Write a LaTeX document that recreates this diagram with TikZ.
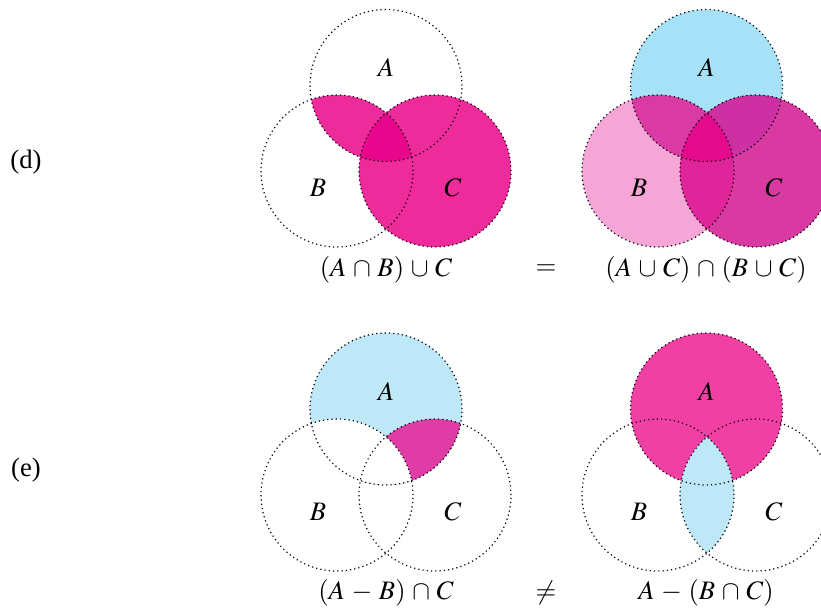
\documentclass[tikz,border=0pt]{standalone}
\usepackage{mathptmx}
\usepackage{fontspec}
\setmainfont{Liberation Serif}
\usetikzlibrary{positioning, calc}
\definecolor{skyA}{HTML}{A6E1F7}
\definecolor{paleA}{HTML}{BEE8F8}
\definecolor{pinkB}{HTML}{F5A6D6}
\definecolor{plumC}{HTML}{D93AA2}
\definecolor{plumAB}{HTML}{D93AA3}
\definecolor{plumAC}{HTML}{CC30A3}
\definecolor{rubyBC}{HTML}{E0249A}
\definecolor{deepABC}{HTML}{E40A8C}
\definecolor{hotmag}{HTML}{EE2B9A}
\definecolor{hotcore}{HTML}{E8078C}
\definecolor{softmag}{HTML}{E03CA6}
\definecolor{brightmag}{HTML}{F040A4}

\begin{document}
\begin{tikzpicture}[
    x=0.375pt, y=-0.375pt,
    rim/.style={draw=black, line width=0.45pt, dash pattern=on 0.45pt off 1.15pt},
    setlbl/.style={inner sep=0pt},
    formula/.style={inner sep=1pt, execute at begin node={\medmuskip=4.5mu\relax}},
    rowlbl/.style={inner sep=0pt}
  ]
    \useasboundingbox (0,0) rectangle (821,609);
    \def\rr{28.5pt}

    % centres of the four diagrams
    \coordinate (dlA) at (386,85.5);  \coordinate (dlB) at (337,171); \coordinate (dlC) at (435,171);
    \coordinate (drA) at (706.5,85.5); \coordinate (drB) at (658,171); \coordinate (drC) at (756,171);
    \coordinate (elA) at (386,409);   \coordinate (elB) at (337,495); \coordinate (elC) at (435,495);
    \coordinate (erA) at (706.5,409); \coordinate (erB) at (658,495); \coordinate (erC) at (756,495);

    % (d) left: (A n B) u C
    \begin{scope}
      \clip (dlA) circle[radius=\rr];
      \fill[hotmag] (dlB) circle[radius=\rr];
    \end{scope}
    \fill[hotmag] (dlC) circle[radius=\rr];
    \begin{scope}
      \clip (dlA) circle[radius=\rr];
      \clip (dlB) circle[radius=\rr];
      \fill[hotcore] (dlC) circle[radius=\rr];
    \end{scope}

    % (d) right: (A u C) n (B u C)
    \fill[skyA] (drA) circle[radius=\rr];
    \fill[pinkB] (drB) circle[radius=\rr];
    \fill[plumC] (drC) circle[radius=\rr];
    \begin{scope}
      \clip (drA) circle[radius=\rr];
      \fill[plumAB] (drB) circle[radius=\rr];
      \fill[plumAC] (drC) circle[radius=\rr];
    \end{scope}
    \begin{scope}
      \clip (drB) circle[radius=\rr];
      \fill[rubyBC] (drC) circle[radius=\rr];
      \clip (drA) circle[radius=\rr];
      \fill[deepABC] (drC) circle[radius=\rr];
    \end{scope}

    % (e) left: (A - B) n C
    \fill[paleA] (elA) circle[radius=\rr];
    \begin{scope}
      \clip (elA) circle[radius=\rr];
      \fill[softmag] (elC) circle[radius=\rr];
      \fill[white] (elB) circle[radius=\rr];
    \end{scope}

    % (e) right: A - (B n C)
    \fill[brightmag] (erA) circle[radius=\rr];
    \begin{scope}
      \clip (erB) circle[radius=\rr];
      \fill[paleA] (erC) circle[radius=\rr];
    \end{scope}

    % dotted outlines
    \foreach \v in {dl,dr,el,er}{
      \foreach \s in {A,B,C}{
        \draw[rim] (\v\s) circle[radius=\rr];
      }
    }

    % set names
    \foreach \v in {dl,dr,el,er}{
      \node[setlbl] (\v lA) at ($(\v A)+(0,-17.5)$) {$A$};
      \node[setlbl] (\v lB) at ($(\v B)+(-19,17)$) {$B$};
      \node[setlbl] (\v lC) at ($(\v C)+(18,17)$) {$C$};
    }

    % formulas
    \node[formula] (dlf) at (386,270) {$(A\cap B)\cup C$};
    \node[formula] (deq) at (546,270) {$=$};
    \node[formula] (drf) at (706,270) {$(A\cup C)\cap(B\cup C)$};
    \node[formula] (elf) at (386,593) {$(A-B)\cap C$};
    \node[formula] (eneq) at (546,593) {$\neq$};
    \node[formula] (erf) at (706,593) {$A-(B\cap C)$};

    % row labels
    \node[rowlbl] (rowd) at (26,162) {(d)};
    \node[rowlbl] (rowe) at (26,470) {(e)};
\end{tikzpicture}
\end{document}
